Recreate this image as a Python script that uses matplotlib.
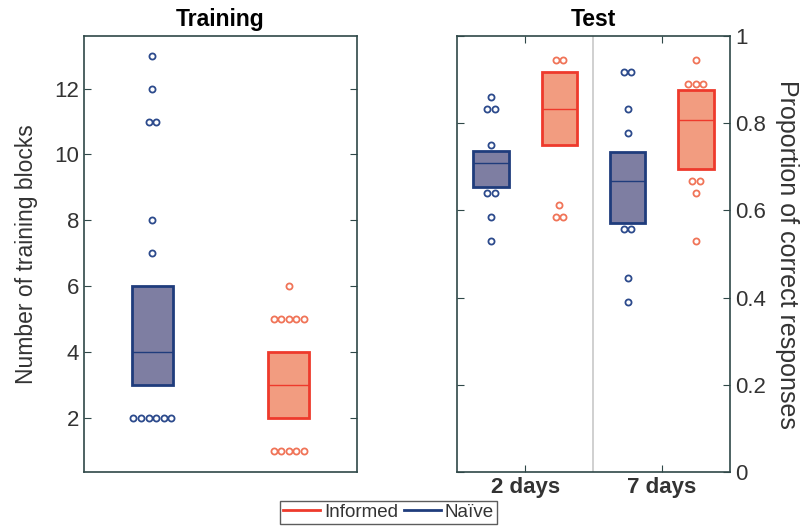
import matplotlib
matplotlib.use("Agg")
import matplotlib.pyplot as plt
from matplotlib.lines import Line2D

# training panel: number of training blocks
train_groups = ["Naïve", "Informed"]
train_q1 = [3, 2]
train_med = [4, 3]
train_q3 = [6, 4]
train_pts = [
    [2, 2, 2, 2, 2, 2, 7, 8, 11, 11, 12, 13],
    [1, 1, 1, 1, 1, 5, 5, 5, 5, 5, 6],
]

# test panel: proportion of correct responses
test_days = ["2 days", "7 days"]
naive_q1 = [0.653, 0.570]
naive_med = [0.709, 0.667]
naive_q3 = [0.737, 0.735]
naive_pts = [
    [0.529, 0.584, 0.640, 0.640, 0.750, 0.833, 0.833, 0.861],
    [0.391, 0.446, 0.557, 0.557, 0.778, 0.833, 0.917, 0.917],
]
inf_q1 = [0.749, 0.695]
inf_med = [0.833, 0.807]
inf_q3 = [0.917, 0.875]
inf_pts = [
    [0.584, 0.584, 0.612, 0.944, 0.944],
    [0.529, 0.640, 0.667, 0.667, 0.889, 0.889, 0.889, 0.944],
]

NAIVE_FILL, NAIVE_EDGE, NAIVE_DOT = "#7e7ea2", "#1f3c7c", "#2c4a8c"
INF_FILL, INF_EDGE, INF_DOT = "#f29c80", "#ee3a2c", "#f07458"
SPINE = "#2f4848"
TXT = "#333333"
plt.rcParams["font.family"] = ["Liberation Sans", "DejaVu Sans"]


def dots(ax, x, vals, col, step=0.055):
    # pile up repeated values side by side
    for v in sorted(set(vals)):
        n = vals.count(v)
        xs = [x + (k - (n - 1) / 2) * step for k in range(n)]
        ax.plot(xs, [v] * n, "o", ms=4.4, mfc="white", mec=col, mew=1.3, zorder=3)


def box(ax, x, q1, med, q3, w, fill, edge):
    ax.bar(x, q3 - q1, w, bottom=q1, color=fill, edgecolor=edge, linewidth=2, zorder=2)
    ax.hlines(med, x - w / 2, x + w / 2, color=edge, lw=1, zorder=3)


def style(ax):
    for s in ax.spines.values():
        s.set_color(SPINE)
        s.set_linewidth(1.2)
    ax.tick_params(direction="in", color=SPINE, labelsize=16, labelcolor=TXT, length=5)


fig = plt.figure(figsize=(8.11, 5.27), dpi=100)
ax1 = fig.add_axes([0.1036, 0.1044, 0.3366, 0.8273])
ax2 = fig.add_axes([0.5635, 0.1044, 0.3366, 0.8273])

# training
cols = [(NAIVE_FILL, NAIVE_EDGE, NAIVE_DOT), (INF_FILL, INF_EDGE, INF_DOT)]
for i in range(2):
    x = i + 1
    box(ax1, x, train_q1[i], train_med[i], train_q3[i], 0.3, cols[i][0], cols[i][1])
    dots(ax1, x, train_pts[i], cols[i][2])
ax1.set_xlim(0.5, 2.5)
ax1.set_ylim(0.35, 13.6)
ax1.set_yticks([2, 4, 6, 8, 10, 12])
ax1.set_xticks([])
ax1.yaxis.set_ticks_position("both")
style(ax1)
ax1.set_ylabel("Number of training blocks", fontsize=16.5, color=TXT, labelpad=12)
ax1.set_title("Training", fontsize=16.5, fontweight="bold", pad=7)

# test
for i in range(2):
    x = i + 1
    box(ax2, x - 0.25, naive_q1[i], naive_med[i], naive_q3[i], 0.26, NAIVE_FILL, NAIVE_EDGE)
    dots(ax2, x - 0.25, naive_pts[i], NAIVE_DOT)
    box(ax2, x + 0.25, inf_q1[i], inf_med[i], inf_q3[i], 0.26, INF_FILL, INF_EDGE)
    dots(ax2, x + 0.25, inf_pts[i], INF_DOT)
ax2.axvline(1.5, color="#c8c8c8", lw=1.2, zorder=1)
ax2.set_xlim(0.5, 2.5)
ax2.set_ylim(0, 1)
ax2.set_xticks([1, 2])
ax2.set_xticklabels(test_days, fontweight="bold")
ax2.set_yticks([0, 0.2, 0.4, 0.6, 0.8, 1])
ax2.set_yticklabels(["0", "0.2", "0.4", "0.6", "0.8", "1"])
ax2.xaxis.set_ticks_position("both")
ax2.yaxis.set_ticks_position("both")
ax2.yaxis.set_label_position("right")
ax2.tick_params(axis="y", labelleft=False, labelright=True)
style(ax2)
ax2.tick_params(axis="x", labelsize=16)
ax2.set_ylabel("Proportion of correct responses", fontsize=18, color=TXT,
               rotation=270, labelpad=24)
ax2.set_title("Test", fontsize=16.5, fontweight="bold", pad=7)

handles = [Line2D([], [], color=INF_EDGE, lw=2), Line2D([], [], color=NAIVE_EDGE, lw=2)]
leg = fig.legend(handles, ["Informed", "Naïve"], loc="center", bbox_to_anchor=(0.479, 0.028),
                 ncol=2, fontsize=13.5, frameon=True, fancybox=False, handlelength=2.0,
                 handletextpad=0.2, columnspacing=0.3, borderpad=0.15, borderaxespad=0)
leg.get_frame().set_edgecolor(TXT)
leg.get_frame().set_linewidth(1)
for t in leg.get_texts():
    t.set_color(TXT)

fig.savefig("out.png", dpi=100)
